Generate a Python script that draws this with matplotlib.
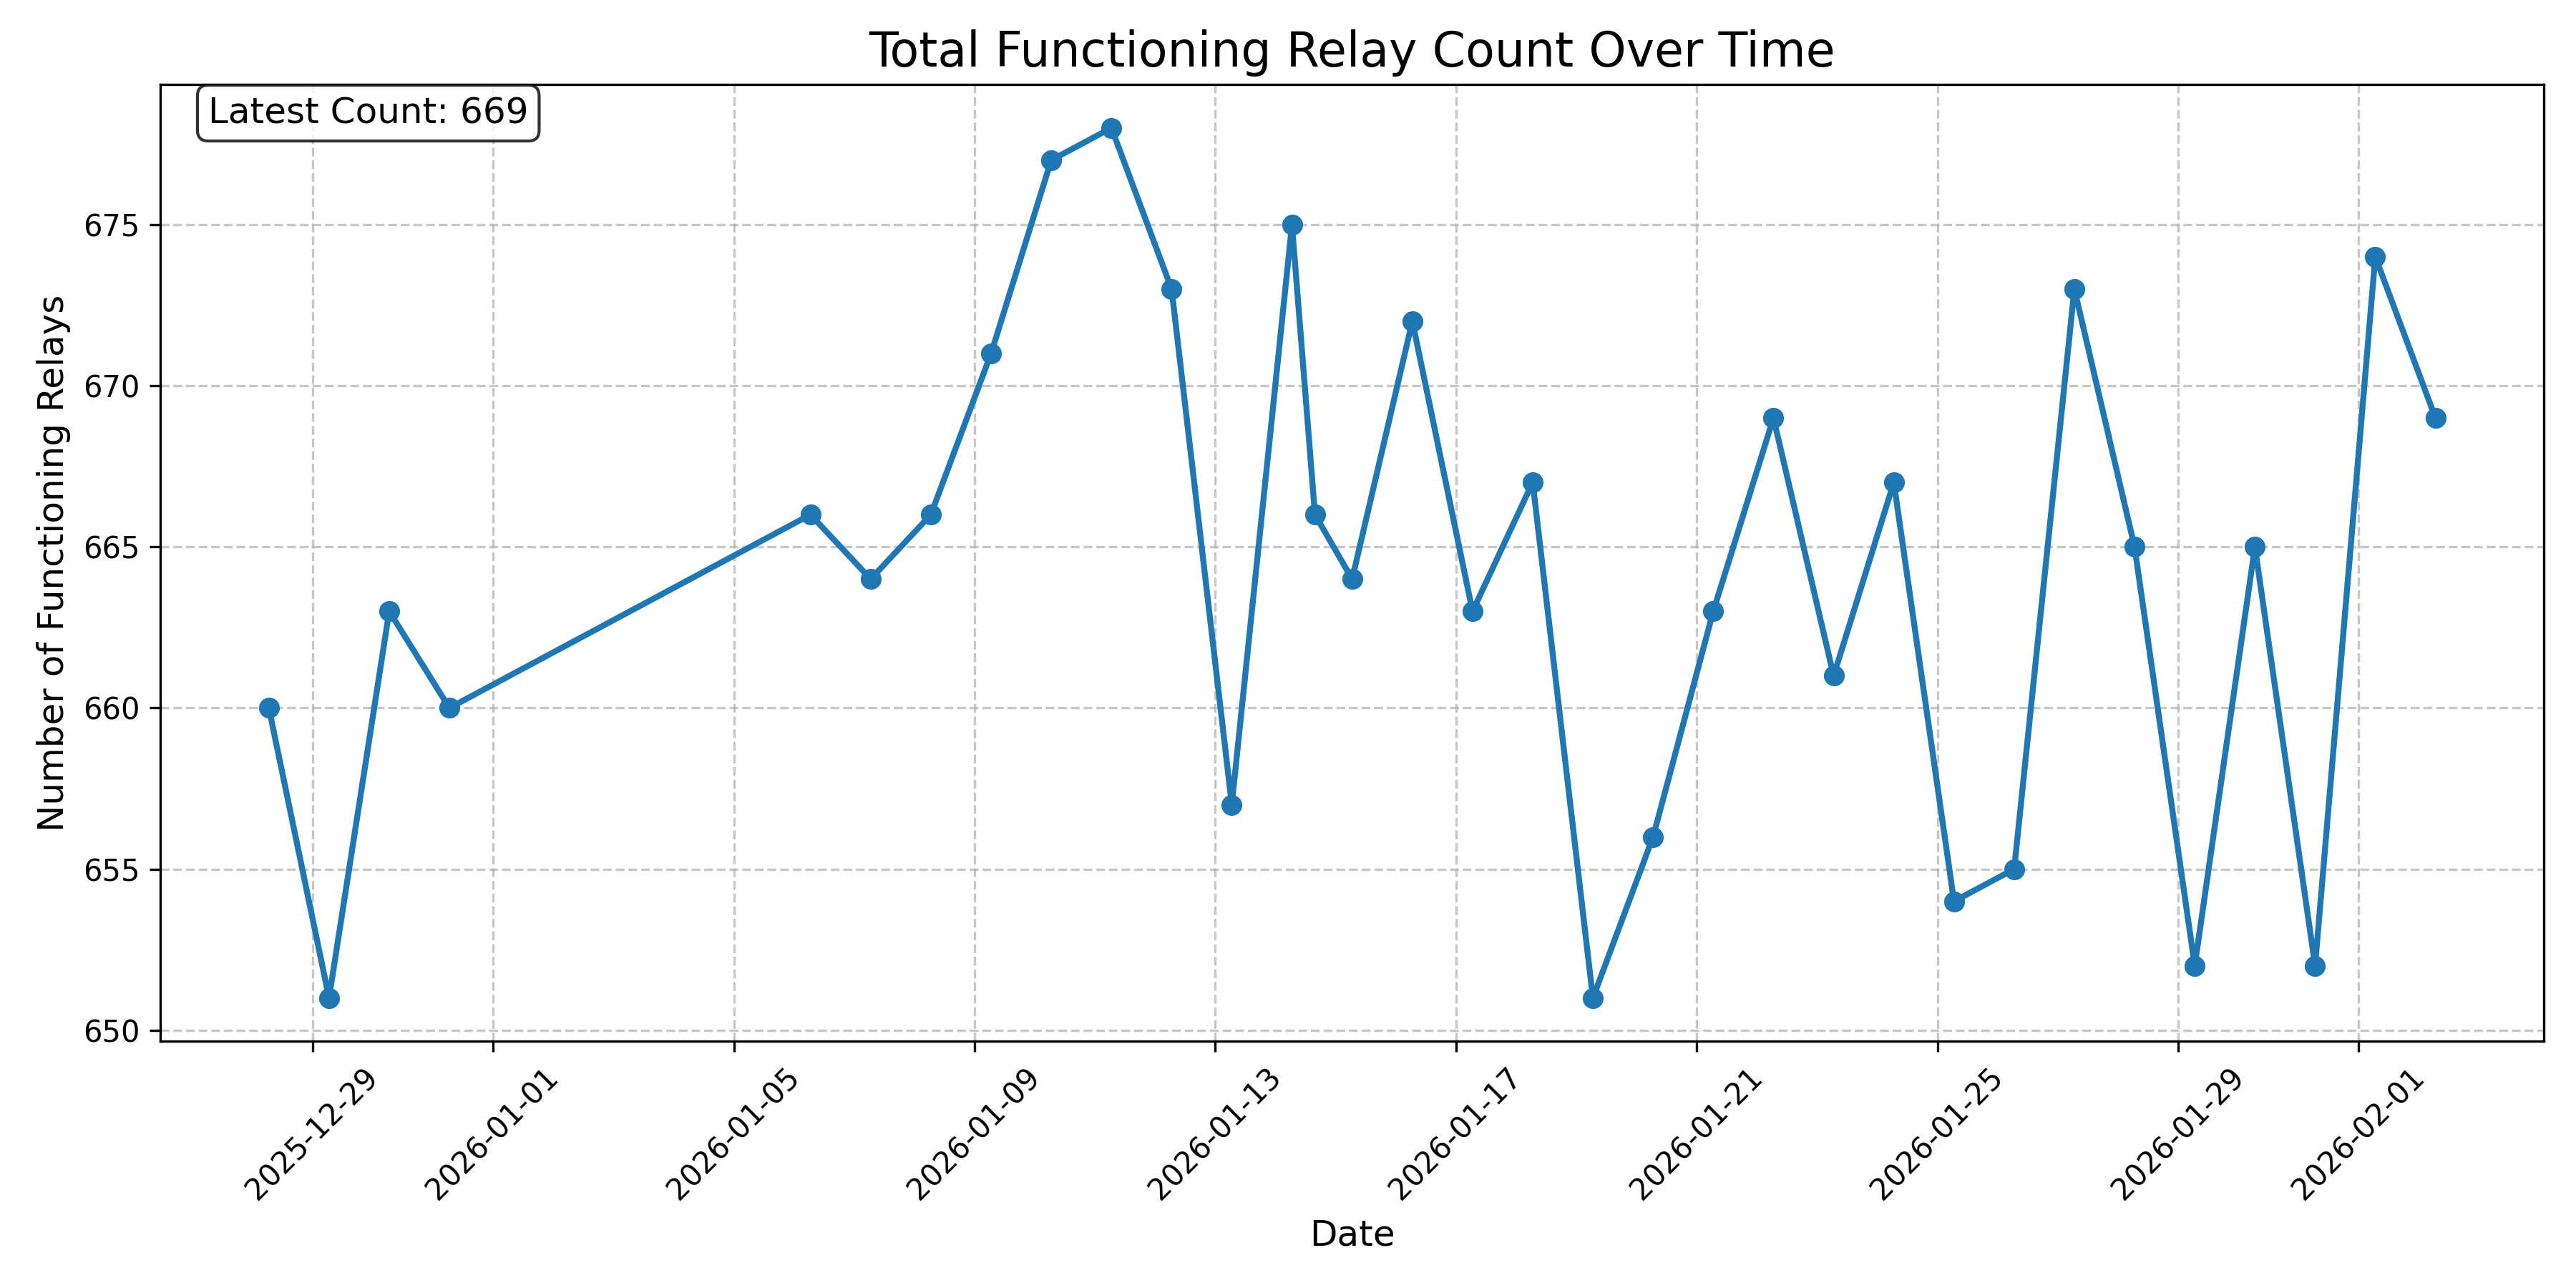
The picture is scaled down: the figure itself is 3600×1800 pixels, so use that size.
import matplotlib
matplotlib.use("Agg")
import matplotlib.pyplot as plt
import matplotlib.dates as mdates
import pandas as pd

# snapshot times and total functioning relay counts
timestamps = [
    "2025-12-28 06:35", "2025-12-29 06:35", "2025-12-30 06:35", "2025-12-31 06:35",
    "2026-01-06 06:35", "2026-01-07 06:35", "2026-01-08 06:35", "2026-01-09 06:35",
    "2026-01-10 06:35", "2026-01-11 06:35", "2026-01-12 06:35", "2026-01-13 06:35",
    "2026-01-14 06:35", "2026-01-14 15:45", "2026-01-15 06:35", "2026-01-16 06:35",
    "2026-01-17 06:35", "2026-01-18 06:35", "2026-01-19 06:35", "2026-01-20 06:35",
    "2026-01-21 06:35", "2026-01-22 06:35", "2026-01-23 06:35", "2026-01-24 06:35",
    "2026-01-25 06:35", "2026-01-26 06:35", "2026-01-27 06:35", "2026-01-28 06:35",
    "2026-01-29 06:35", "2026-01-30 06:35", "2026-01-31 06:35", "2026-02-01 06:35",
    "2026-02-02 06:35",
]
relay_counts = [
    660, 651, 663, 660,
    666, 664, 666, 671,
    677, 678, 673, 657,
    675, 666, 664, 672,
    663, 667, 651, 656,
    663, 669, 661, 667,
    654, 655, 673, 665,
    652, 665, 652, 674,
    669,
]

dates = pd.to_datetime(timestamps)

plt.figure(figsize=(12, 6))
plt.plot(dates, relay_counts, marker='o', linestyle='-', linewidth=2, markersize=6)
plt.title("Total Functioning Relay Count Over Time", fontsize=16)
plt.xlabel("Date", fontsize=12)
plt.ylabel("Number of Functioning Relays", fontsize=12)
plt.grid(True, linestyle='--', alpha=0.7)
plt.gca().xaxis.set_major_formatter(mdates.DateFormatter('%Y-%m-%d'))
plt.xticks(rotation=45)

latest = relay_counts[-1]
plt.text(0.02, 0.988, f"Latest Count: {latest}", transform=plt.gca().transAxes,
         fontsize=12, verticalalignment='top',
         bbox=dict(boxstyle='round', facecolor='white', alpha=0.8))

plt.tight_layout()
plt.savefig("out.png", dpi=300)
